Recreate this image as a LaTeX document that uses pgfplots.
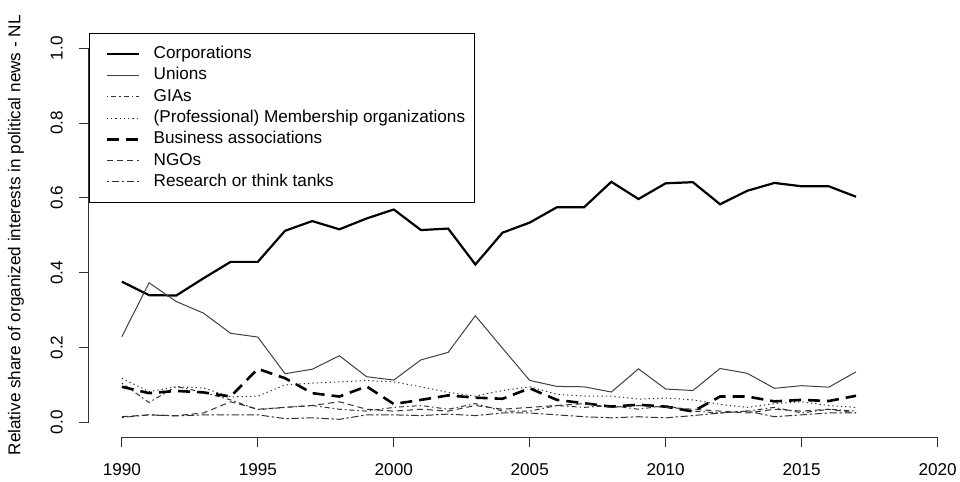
\documentclass[border=0pt]{standalone}
\usepackage{fontspec}
\setmainfont{Liberation Sans}
\usepackage{pgfplots}
\usepackage{pgfplotstable}
\pgfplotsset{compat=1.18}
\pgfplotstableread{
year corp unions gias memb bus ngo res
1990 0.376 0.229 0.105 0.118 0.095 0.015 0.013
1991 0.340 0.373 0.053 0.082 0.078 0.020 0.020
1992 0.339 0.323 0.096 0.095 0.084 0.018 0.017
1993 0.385 0.292 0.080 0.092 0.080 0.025 0.020
1994 0.429 0.238 0.060 0.068 0.069 0.055 0.020
1995 0.429 0.228 0.034 0.070 0.143 0.035 0.020
1996 0.512 0.130 0.040 0.100 0.118 0.040 0.010
1997 0.538 0.142 0.045 0.105 0.078 0.045 0.012
1998 0.516 0.178 0.035 0.108 0.069 0.055 0.008
1999 0.545 0.122 0.030 0.112 0.096 0.035 0.020
2000 0.569 0.113 0.040 0.108 0.049 0.030 0.020
2001 0.514 0.167 0.045 0.095 0.060 0.035 0.018
2002 0.518 0.187 0.035 0.080 0.072 0.030 0.022
2003 0.422 0.285 0.050 0.070 0.066 0.045 0.018
2004 0.507 0.198 0.030 0.085 0.063 0.035 0.025
2005 0.534 0.112 0.030 0.095 0.091 0.040 0.025
2006 0.575 0.096 0.045 0.075 0.060 0.045 0.020
2007 0.575 0.095 0.040 0.070 0.051 0.050 0.015
2008 0.643 0.081 0.045 0.070 0.042 0.040 0.012
2009 0.597 0.143 0.035 0.062 0.047 0.045 0.015
2010 0.639 0.089 0.045 0.065 0.042 0.040 0.012
2011 0.642 0.085 0.030 0.060 0.029 0.035 0.018
2012 0.583 0.144 0.025 0.048 0.069 0.030 0.025
2013 0.619 0.131 0.030 0.040 0.069 0.025 0.030
2014 0.640 0.091 0.040 0.050 0.056 0.035 0.015
2015 0.631 0.098 0.025 0.055 0.060 0.030 0.020
2016 0.631 0.094 0.035 0.045 0.057 0.035 0.025
2017 0.603 0.135 0.030 0.040 0.071 0.025 0.025
}\datatable
\begin{document}
\fontsize{17.2}{21}\selectfont
\begin{tikzpicture}
\begin{axis}[
  scale only axis, width=872bp, height=404bp,
  xmin=1988.78, xmax=2020.85, ymin=-0.04, ymax=1.04,
  clip=false,
  axis line style={draw=none},
  xtick={1990,1995,2000,2005,2010,2015,2020},
  ytick={0,0.2,0.4,0.6,0.8,1},
  tick align=outside, xtick pos=bottom, ytick pos=left,
  major tick length=10bp,
  tick style={black!80, line width=0.8bp},
  xticklabel shift=10bp, yticklabel shift=10bp,
  /pgf/number format/assume math mode=true,
  x tick label style={/pgf/number format/1000 sep={}},
  y tick label style={rotate=90, anchor=south, /pgf/number format/fixed, /pgf/number format/fixed zerofill, /pgf/number format/precision=1},
  every axis y label/.style={at={(axis description cs:0,0.5)}, xshift=-72.7bp, anchor=center, rotate=90},
  ylabel={Relative share of organized interests in political news - NL},
  legend style={at={(0,1)}, anchor=north west, draw=black, line width=0.8bp,
    inner xsep=9bp, inner ysep=12bp, row sep=4.3bp,
    nodes={inner sep=0pt, text height=13bp, text depth=4bp},
    cells={anchor=west}, font=\fontsize{17.2}{21}\selectfont},
  legend cell align=left,
  legend image code/.code={\draw[#1] (7.3bp,0bp) -- (39.3bp,0bp); \path (0bp,0bp) (53bp,0bp);},
]
\coordinate (o) at (rel axis cs:0,0);
\draw[black!80, line width=0.8bp] (axis cs:1990,-0.04) -- (axis cs:2020,-0.04);
\draw[black!80, line width=0.8bp] (axis cs:1988.78,0) -- (axis cs:1988.78,1);
\addplot[black, line width=2.2bp] table[x=year,y=corp] {\datatable};
\addlegendentry{Corporations}
\addplot[black!75, line width=1bp] table[x=year,y=unions] {\datatable};
\addlegendentry{Unions}
\addplot[black!80, line width=1bp, dash pattern=on 1.5bp off 3bp on 5bp off 3bp] table[x=year,y=gias] {\datatable};
\addlegendentry{GIAs}
\addplot[black!80, line width=1bp, dash pattern=on 1.3bp off 3bp] table[x=year,y=memb] {\datatable};
\addlegendentry{(Professional) Membership organizations}
\addplot[black, line width=2.6bp, dash pattern=on 12bp off 7bp] table[x=year,y=bus] {\datatable};
\addlegendentry{Business associations}
\addplot[black!80, line width=1bp, dash pattern=on 6bp off 4bp] table[x=year,y=ngo] {\datatable};
\addlegendentry{NGOs}
\addplot[black!80, line width=1bp, dash pattern=on 2.5bp off 2.5bp on 7.5bp off 2.5bp] table[x=year,y=res] {\datatable};
\addlegendentry{Research or think tanks}
\end{axis}
\pgfresetboundingbox
\path (o) ++(-88.7bp,-44.7bp) rectangle ++(960bp,482bp);
\end{tikzpicture}
\end{document}
